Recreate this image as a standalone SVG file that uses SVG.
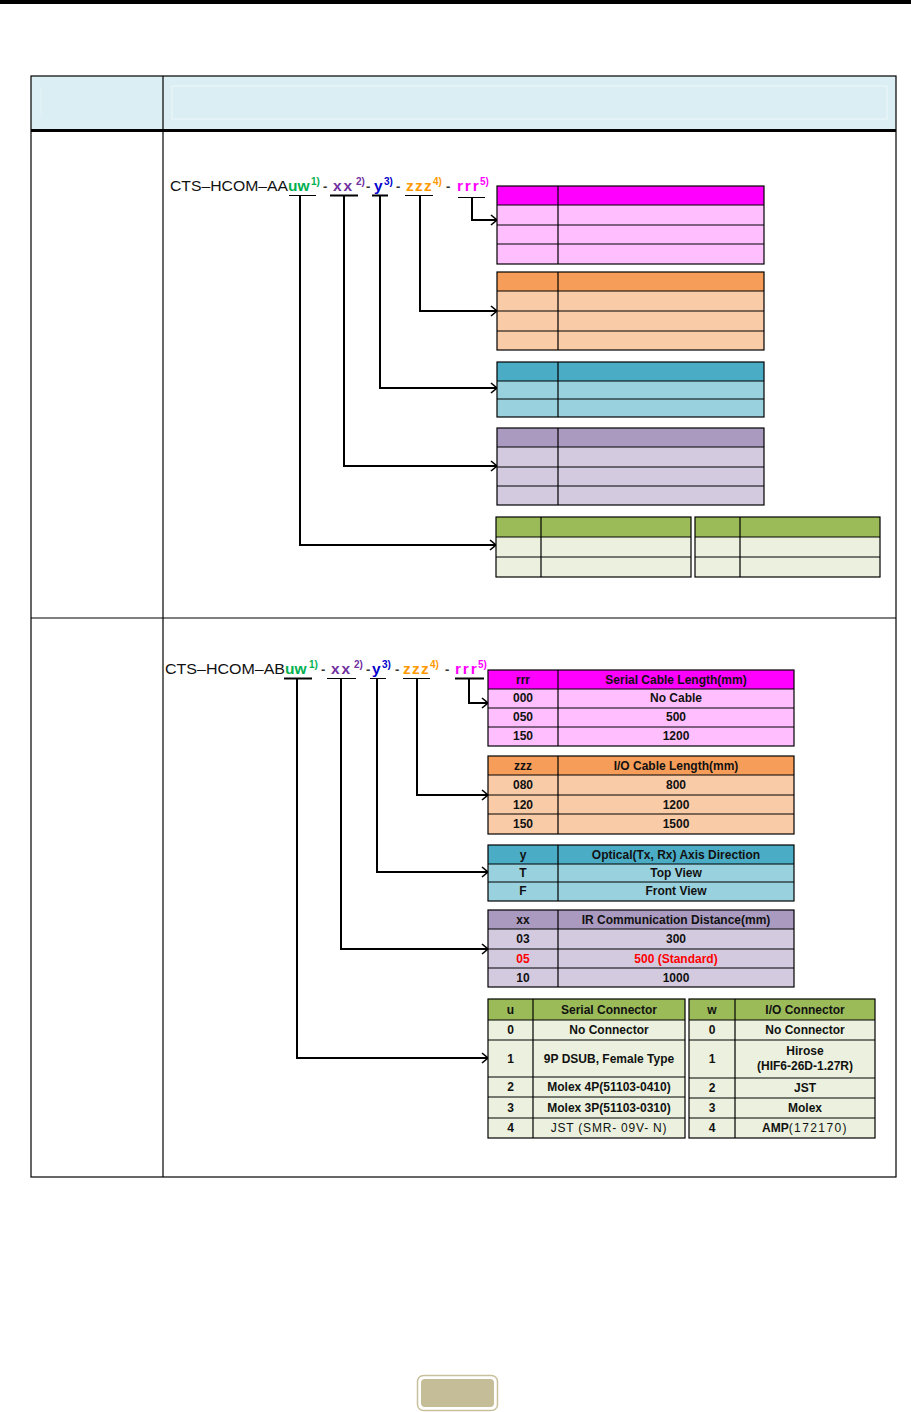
<svg xmlns="http://www.w3.org/2000/svg" width="911" height="1412" viewBox="0 0 911 1412">
<style>
.grid{stroke:#000;stroke-width:1.2;fill:none}
.t{font-family:"Liberation Sans",Arial,sans-serif;font-size:12px;font-weight:bold;fill:#111;text-anchor:middle}
.n{font-weight:normal}
.red{fill:#FF0000}
.code{font-family:"Liberation Sans",Arial,sans-serif;font-weight:bold;font-size:15.5px}
.sup{font-family:"Liberation Sans",Arial,sans-serif;font-weight:bold;font-size:10px}
.dash{font-family:"Liberation Sans",Arial,sans-serif;font-weight:bold;font-size:13px;fill:#333}
.base{font-family:"Liberation Sans",Arial,sans-serif;font-size:15.5px;fill:#111}
.g{fill:#00B050}.p{fill:#7030A0}.b{fill:#0000CC}.o{fill:#FF9900}.m{fill:#FF00FF}
.conn{stroke:#000;stroke-width:2;fill:none}
.ul{stroke:#000;fill:none}
</style>
<defs>
<marker id="arr" markerUnits="userSpaceOnUse" markerWidth="10" markerHeight="12" refX="7" refY="6" orient="auto">
<path d="M1,1 L7,6 L1,11" fill="none" stroke="#000" stroke-width="1.6"/>
</marker>
</defs>
<rect x="0" y="0" width="911" height="1412" fill="#fff"/>
<rect x="0" y="0" width="911" height="4" fill="#000"/>

<g id="frame">
<rect x="31" y="76" width="865" height="54" fill="#DAEEF3"/>
<rect x="172" y="86" width="715" height="33" fill="none" stroke="#EEF7FA" stroke-width="1"/>
<line x1="41" y1="88" x2="41" y2="118" stroke="#E6F3F7" stroke-width="1"/>
<rect x="31" y="76" width="865" height="1101" class="grid"/>
<line x1="163" y1="76" x2="163" y2="1177" class="grid"/>
<line x1="31" y1="130.5" x2="896" y2="130.5" stroke="#000" stroke-width="3"/>
<line x1="31" y1="618" x2="896" y2="618" class="grid"/>
</g>

<g id="code1">
<text x="170" y="191" class="base" textLength="118" lengthAdjust="spacingAndGlyphs">CTS–HCOM–AA</text>
<text x="288" y="191" class="code g">uw</text>
<text x="311" y="185" class="sup g">1)</text>
<text x="323" y="191" class="dash">-</text>
<text x="333" y="191" class="code p" letter-spacing="2">xx</text>
<text x="356" y="185" class="sup p">2)</text>
<text x="366" y="191" class="dash">-</text>
<text x="374" y="191" class="code b">y</text>
<text x="384" y="185" class="sup b">3)</text>
<text x="396" y="191" class="dash">-</text>
<text x="406" y="191" class="code o" letter-spacing="1.2">zzz</text>
<text x="433" y="185" class="sup o">4)</text>
<text x="446" y="191" class="dash">-</text>
<text x="457" y="191" class="code m" letter-spacing="1.8">rrr</text>
<text x="480" y="185" class="sup m">5)</text>
</g>

<g id="code2">
<text x="165" y="674" class="base" textLength="120" lengthAdjust="spacingAndGlyphs">CTS–HCOM–AB</text>
<text x="285" y="674" class="code g">uw</text>
<text x="309" y="668" class="sup g">1)</text>
<text x="321" y="674" class="dash">-</text>
<text x="331" y="674" class="code p" letter-spacing="2">xx</text>
<text x="354" y="668" class="sup p">2)</text>
<text x="366" y="674" class="dash">-</text>
<text x="372" y="674" class="code b">y</text>
<text x="382" y="668" class="sup b">3)</text>
<text x="395" y="674" class="dash">-</text>
<text x="403" y="674" class="code o" letter-spacing="1.2">zzz</text>
<text x="430" y="668" class="sup o">4)</text>
<text x="445" y="674" class="dash">-</text>
<text x="455" y="674" class="code m" letter-spacing="1.8">rrr</text>
<text x="478" y="668" class="sup m">5)</text>
</g>

<g id="connectors">
<line x1="289" y1="195.5" x2="316" y2="195.5" class="ul" stroke-width="1"/>
<line x1="330" y1="195.5" x2="358" y2="195.5" class="ul" stroke-width="2"/>
<line x1="372" y1="195.5" x2="388" y2="195.5" class="ul" stroke-width="2"/>
<line x1="405" y1="195.5" x2="433" y2="195.5" class="ul" stroke-width="1"/>
<line x1="458" y1="197.5" x2="485" y2="197.5" class="ul" stroke-width="1"/>
<path d="M300,196 V545 H496" class="conn" marker-end="url(#arr)"/>
<path d="M344,196 V466 H497" class="conn" marker-end="url(#arr)"/>
<path d="M380,196 V388 H497" class="conn" marker-end="url(#arr)"/>
<path d="M420,196 V311 H497" class="conn" marker-end="url(#arr)"/>
<path d="M472,198 V220 H497" class="conn" marker-end="url(#arr)"/>

<line x1="284" y1="678.5" x2="312" y2="678.5" class="ul" stroke-width="2"/>
<line x1="327" y1="678.5" x2="356" y2="678.5" class="ul" stroke-width="1"/>
<line x1="370" y1="678.5" x2="386" y2="678.5" class="ul" stroke-width="1"/>
<line x1="403" y1="678.5" x2="430" y2="678.5" class="ul" stroke-width="1"/>
<line x1="455" y1="678.5" x2="484" y2="678.5" class="ul" stroke-width="2"/>
<path d="M297,679 V1058 H488" class="conn" marker-end="url(#arr)"/>
<path d="M341,679 V949 H488" class="conn" marker-end="url(#arr)"/>
<path d="M377,679 V872 H488" class="conn" marker-end="url(#arr)"/>
<path d="M417,679 V795 H488" class="conn" stroke-width="1.4" marker-end="url(#arr)"/>
<path d="M469,679 V703 H488" class="conn" marker-end="url(#arr)"/>
</g>

<!-- Section 1 tables (empty) -->
<g id="t1-rrr">
<rect x="497" y="186" width="267" height="19" fill="#FF00FF"/>
<rect x="497" y="205" width="267" height="59" fill="#FFBFFF"/>
<rect x="497" y="186" width="267" height="78" class="grid"/>
<path d="M558,186 V264 M497,205 H764 M497,225 H764 M497,244 H764" class="grid"/>
</g>
<g id="t1-zzz">
<rect x="497" y="272" width="267" height="19" fill="#F79D5A"/>
<rect x="497" y="291" width="267" height="59" fill="#F9CBA7"/>
<rect x="497" y="272" width="267" height="78" class="grid"/>
<path d="M558,272 V350 M497,291 H764 M497,311 H764 M497,331 H764" class="grid"/>
</g>
<g id="t1-y">
<rect x="497" y="362" width="267" height="19" fill="#4BACC6"/>
<rect x="497" y="381" width="267" height="36" fill="#99D1DF"/>
<rect x="497" y="362" width="267" height="55" class="grid"/>
<path d="M558,362 V417 M497,381 H764 M497,399 H764" class="grid"/>
</g>
<g id="t1-xx">
<rect x="497" y="428" width="267" height="19" fill="#AA9AC0"/>
<rect x="497" y="447" width="267" height="58" fill="#D3CAE0"/>
<rect x="497" y="428" width="267" height="77" class="grid"/>
<path d="M558,428 V505 M497,447 H764 M497,467 H764 M497,486 H764" class="grid"/>
</g>
<g id="t1-u">
<rect x="496" y="517" width="195" height="20" fill="#9BBB59"/>
<rect x="496" y="537" width="195" height="40" fill="#EBF1DE"/>
<rect x="496" y="517" width="195" height="60" class="grid"/>
<path d="M541,517 V577 M496,537 H691 M496,557 H691" class="grid"/>
</g>
<g id="t1-w">
<rect x="695" y="517" width="185" height="20" fill="#9BBB59"/>
<rect x="695" y="537" width="185" height="40" fill="#EBF1DE"/>
<rect x="695" y="517" width="185" height="60" class="grid"/>
<path d="M740,517 V577 M695,537 H880 M695,557 H880" class="grid"/>
</g>

<!-- Section 2 tables -->
<g id="t2-rrr">
<rect x="488" y="670" width="306" height="19" fill="#FF00FF"/>
<rect x="488" y="689" width="306" height="57" fill="#FFBFFF"/>
<rect x="488" y="670" width="306" height="76" class="grid"/>
<path d="M558,670 V746 M488,689 H794 M488,708 H794 M488,727 H794" class="grid"/>
<text x="523" y="684" class="t">rrr</text>
<text x="676" y="684" class="t">Serial Cable Length(mm)</text>
<text x="523" y="702" class="t">000</text>
<text x="676" y="702" class="t">No Cable</text>
<text x="523" y="721" class="t">050</text>
<text x="676" y="721" class="t">500</text>
<text x="523" y="740" class="t">150</text>
<text x="676" y="740" class="t">1200</text>
</g>
<g id="t2-zzz">
<rect x="488" y="756" width="306" height="19" fill="#F79D5A"/>
<rect x="488" y="775" width="306" height="59" fill="#F9CBA7"/>
<rect x="488" y="756" width="306" height="78" class="grid"/>
<path d="M558,756 V834 M488,775 H794 M488,795 H794 M488,814 H794" class="grid"/>
<text x="523" y="770" class="t">zzz</text>
<text x="676" y="770" class="t">I/O Cable Length(mm)</text>
<text x="523" y="789" class="t">080</text>
<text x="676" y="789" class="t">800</text>
<text x="523" y="809" class="t">120</text>
<text x="676" y="809" class="t">1200</text>
<text x="523" y="828" class="t">150</text>
<text x="676" y="828" class="t">1500</text>
</g>
<g id="t2-y">
<rect x="488" y="845" width="306" height="19" fill="#4BACC6"/>
<rect x="488" y="864" width="306" height="37" fill="#99D1DF"/>
<rect x="488" y="845" width="306" height="56" class="grid"/>
<path d="M558,845 V901 M488,864 H794 M488,882 H794" class="grid"/>
<text x="523" y="859" class="t">y</text>
<text x="676" y="859" class="t">Optical(Tx, Rx) Axis Direction</text>
<text x="523" y="877" class="t">T</text>
<text x="676" y="877" class="t">Top View</text>
<text x="523" y="895" class="t">F</text>
<text x="676" y="895" class="t">Front View</text>
</g>
<g id="t2-xx">
<rect x="488" y="910" width="306" height="19" fill="#AA9AC0"/>
<rect x="488" y="929" width="306" height="58" fill="#D3CAE0"/>
<rect x="488" y="910" width="306" height="77" class="grid"/>
<path d="M558,910 V987 M488,929 H794 M488,949 H794 M488,968 H794" class="grid"/>
<text x="523" y="924" class="t">xx</text>
<text x="676" y="924" class="t">IR Communication Distance(mm)</text>
<text x="523" y="943" class="t">03</text>
<text x="676" y="943" class="t">300</text>
<text x="523" y="963" class="t red">05</text>
<text x="676" y="963" class="t red">500 (Standard)</text>
<text x="523" y="982" class="t">10</text>
<text x="676" y="982" class="t">1000</text>
</g>
<g id="t2-u">
<rect x="488" y="999" width="197" height="21" fill="#9BBB59"/>
<rect x="488" y="1020" width="197" height="118" fill="#EBF1DE"/>
<rect x="488" y="999" width="197" height="139" class="grid"/>
<path d="M533,999 V1138 M488,1020 H685 M488,1040 H685 M488,1077 H685 M488,1097 H685 M488,1118 H685" class="grid"/>
<text x="510.5" y="1014" class="t">u</text>
<text x="609" y="1014" class="t">Serial Connector</text>
<text x="510.5" y="1034" class="t">0</text>
<text x="609" y="1034" class="t">No Connector</text>
<text x="510.5" y="1063" class="t">1</text>
<text x="609" y="1063" class="t">9P DSUB, Female Type</text>
<text x="510.5" y="1091" class="t">2</text>
<text x="609" y="1091" class="t">Molex 4P(51103-0410)</text>
<text x="510.5" y="1112" class="t">3</text>
<text x="609" y="1112" class="t">Molex 3P(51103-0310)</text>
<text x="510.5" y="1132" class="t">4</text>
<text x="609" y="1132" class="t n" letter-spacing="0.8">JST (SMR- 09V- N)</text>
</g>
<g id="t2-w">
<rect x="689" y="999" width="186" height="21" fill="#9BBB59"/>
<rect x="689" y="1020" width="186" height="118" fill="#EBF1DE"/>
<rect x="689" y="999" width="186" height="139" class="grid"/>
<path d="M735,999 V1138 M689,1020 H875 M689,1040 H875 M689,1078 H875 M689,1098 H875 M689,1118 H875" class="grid"/>
<text x="712" y="1014" class="t">w</text>
<text x="805" y="1014" class="t">I/O Connector</text>
<text x="712" y="1034" class="t">0</text>
<text x="805" y="1034" class="t">No Connector</text>
<text x="712" y="1063" class="t">1</text>
<text x="805" y="1055" class="t">Hirose</text>
<text x="805" y="1070" class="t" font-size="11.5">(HIF6-26D-1.27R)</text>
<text x="712" y="1092" class="t">2</text>
<text x="805" y="1092" class="t">JST</text>
<text x="712" y="1112" class="t">3</text>
<text x="805" y="1112" class="t">Molex</text>
<text x="712" y="1132" class="t">4</text>
<text x="805" y="1132" class="t">AMP<tspan font-weight="normal" letter-spacing="1.4">(172170)</tspan></text>
</g>

<g id="footer">
<rect x="417.5" y="1375.5" width="80" height="35" rx="6" fill="#fff" stroke="#C8C09C" stroke-width="1.5"/>
<rect x="421" y="1379" width="73" height="28" rx="4" fill="#C4BD97"/>
</g>
</svg>
